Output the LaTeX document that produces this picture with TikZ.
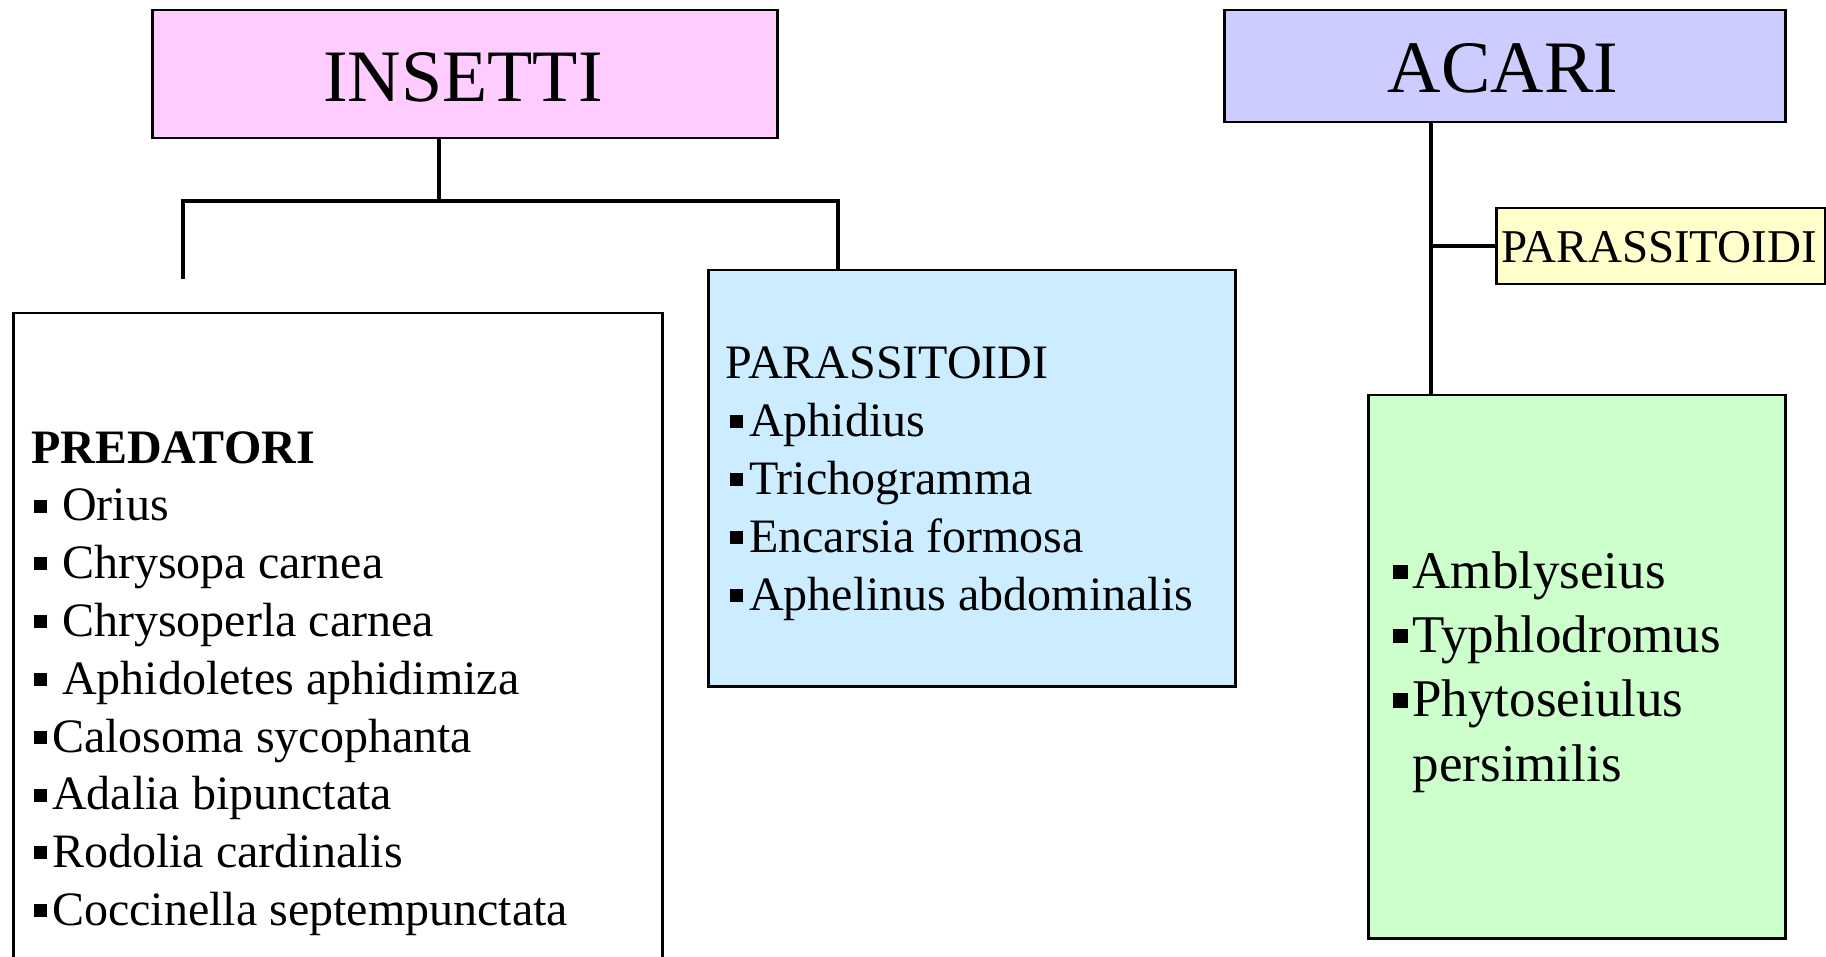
\documentclass[tikz,border=0pt]{standalone}
\usepackage{fontspec}
\setmainfont{Liberation Serif}
\definecolor{insettifill}{HTML}{FFCCFF}
\definecolor{acarifill}{HTML}{CCCCFF}
\definecolor{bluefill}{HTML}{CCECFF}
\definecolor{yellowfill}{HTML}{FFFFCC}
\definecolor{greenfill}{HTML}{CCFFCC}
% square bullet
\newcommand\sqb{\rule[0.17em]{0.27em}{0.27em}}
\tikzset{
  box/.style={draw=black, line width=2.5pt, rectangle, inner sep=0pt, anchor=north west},
  link/.style={draw=black, line width=3.5pt},
  item/.style={anchor=base west, inner sep=0pt, font=\fontsize{48}{58}\selectfont},
  bigitem/.style={anchor=base west, inner sep=0pt, font=\fontsize{53}{64}\selectfont},
  title/.style={anchor=base, inner sep=0pt, font=\fontsize{74}{88}\selectfont},
}
\begin{document}
\begin{tikzpicture}[x=1pt,y=-1pt]
\useasboundingbox[fill=white] (0,0) rectangle (1826,957);

% --- boxes ---
\node[box, fill=insettifill, minimum width=625pt, minimum height=128pt] (insetti) at (151,9) {};
\node[box, fill=white, minimum width=649pt, minimum height=700pt] (pred) at (12,312) {};
\node[box, fill=bluefill, minimum width=527pt, minimum height=416pt] (blue) at (707,269) {};
\node[box, fill=acarifill, minimum width=561pt, minimum height=112pt] (acari) at (1223,9) {};
\node[box, fill=yellowfill, minimum width=329pt, minimum height=76pt] (yellow) at (1495,207) {};
\node[box, fill=greenfill, minimum width=417pt, minimum height=543pt] (green) at (1367,394) {};

% --- connectors ---
\coordinate (itop) at (439,137);
\coordinate (hl) at (183,201);
\coordinate (hr) at (838,201);
\coordinate (lend) at (183,279);
\coordinate (atop) at (1431,121);
\draw[link] (itop) -- (itop |- hl);
\draw[link] (lend) -- (hl) -- (hr) -- (hr |- blue.north);
\draw[link] (atop) -- (atop |- green.north);
\draw[link] (atop |- yellow.west) -- (yellow.west);

% --- titles ---
\node[title] (tins) at (463,102) {INSETTI};
\node[title] (taca) at (1503,93) {ACARI};
\node[anchor=base, inner sep=0pt, font=\fontsize{47}{56}\selectfont] (tyel) at (1659,263) {PARASSITOIDI};

% --- predatori list ---
\node[item, font=\fontsize{48}{58}\selectfont\bfseries] (p0) at (31,463) {PREDATORI};
\node[item] (p1) at (34,520.8) {\sqb\hspace{15pt}Orius};
\node[item] (p2) at (34,578.6) {\sqb\hspace{15pt}Chrysopa carnea};
\node[item] (p3) at (34,636.4) {\sqb\hspace{15pt}Chrysoperla carnea};
\node[item] (p4) at (34,694.2) {\sqb\hspace{15pt}Aphidoletes aphidimiza};
\node[item] (p5) at (34,752.0) {\sqb\hspace{5pt}Calosoma sycophanta};
\node[item] (p6) at (34,809.8) {\sqb\hspace{5pt}Adalia bipunctata};
\node[item] (p7) at (34,867.6) {\sqb\hspace{5pt}Rodolia cardinalis};
\node[item] (p8) at (34,925.4) {\sqb\hspace{5pt}Coccinella septempunctata};

% --- parassitoidi list ---
\node[item] (b0) at (725.5,378.5) {PARASSITOIDI};
\node[item] (b1) at (730,436.4) {\sqb\hspace{6pt}Aphidius};
\node[item] (b2) at (730,494.3) {\sqb\hspace{6pt}Trichogramma};
\node[item] (b3) at (730,552.2) {\sqb\hspace{6pt}Encarsia formosa};
\node[item] (b4) at (730,610.1) {\sqb\hspace{6pt}Aphelinus abdominalis};

% --- acari list ---
\node[bigitem] (g1) at (1393,588) {\sqb\hspace{5pt}Amblyseius};
\node[bigitem] (g2) at (1393,652.4) {\sqb\hspace{5pt}Typhlodromus};
\node[bigitem] (g3) at (1393,716.8) {\sqb\hspace{5pt}Phytoseiulus};
\node[bigitem] (g4) at (1412.5,781.2) {persimilis};
\end{tikzpicture}
\end{document}
